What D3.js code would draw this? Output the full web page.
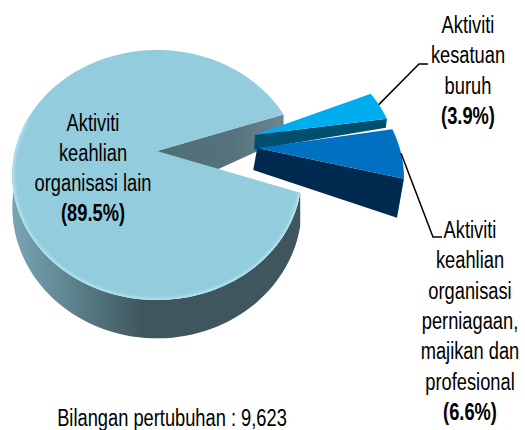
<!DOCTYPE html>
<html>
<head>
<meta charset="utf-8">
<script src="https://cdn.jsdelivr.net/npm/d3@7"></script>
<style>
html, body { margin: 0; padding: 0; background: #fff; }
svg { display: block; }
text { font-family: "Liberation Sans", Arial, sans-serif; fill: #000; }
</style>
</head>
<body>
<svg id="chart" width="525" height="430"></svg>
<script>
const categories = ["Aktiviti keahlian organisasi lain", "Aktiviti kesatuan buruh", "Aktiviti keahlian organisasi perniagaan, majikan dan profesional"];
const shares = [89.5, 3.9, 6.6];
const labelLines = [
    ["Aktiviti", "keahlian", "organisasi lain"],
    ["Aktiviti", "kesatuan", "buruh"],
    ["Aktiviti", "keahlian", "organisasi", "perniagaan,", "majikan dan", "profesional"]
];
const totalLabel = "Bilangan pertubuhan : 9,623";

const svg = d3.select("#chart");
const deg = Math.PI / 180;

// tilted disc, far side is smaller than the near side
const tilt = 0.192;
const cx = 157, cy = 151, scaleU = 142, scaleV = 120.4;
const project = (u, v) => [cx + scaleU * u / (1 - tilt * v), cy + scaleV * v / (1 - tilt * v)];

const pie = d3.pie().sort(null).startAngle(109 * deg).endAngle(469 * deg);
const arcs = pie(shares);

// how far each slice is pulled out, in disc units, and how its side wall looks
const pieces = [
    { shift: [0, 0] },
    { shift: [0.71, -0.2], nudge: [1, 7], wallApex: 15, wallRim: 9, inApex: -1, inRim: -1 },
    { shift: [0.72, -0.105], nudge: [0, 9.5], wallApex: 22, wallRim: 39, inApex: -4, inRim: -7 }
];

function rimPoint(angle, shift) {
    return project(Math.sin(angle) + shift[0], -Math.cos(angle) + shift[1]);
}
function rimPoints(a, shift) {
    return d3.range(0, 81).map(i => rimPoint(a.startAngle + (a.endAngle - a.startAngle) * i / 80, shift));
}
const line = d3.line();
const poly = pts => line(pts) + "Z";

const defs = svg.append("defs");
const soft = defs.append("filter").attr("id", "soft").attr("x", "-5%").attr("y", "-5%").attr("width", "110%").attr("height", "110%");
soft.append("feGaussianBlur").attr("stdDeviation", 0.6);
const glow = defs.append("filter").attr("id", "glow").attr("x", "-5%").attr("y", "-5%").attr("width", "110%").attr("height", "110%");
glow.append("feGaussianBlur").attr("stdDeviation", 1.6);

function hGradient(id, x1, x2, stops) {
    const g = defs.append("linearGradient").attr("id", id)
        .attr("gradientUnits", "userSpaceOnUse")
        .attr("x1", x1).attr("x2", x2).attr("y1", 0).attr("y2", 0);
    stops.forEach(s => g.append("stop").attr("offset", s[0]).attr("stop-color", s[1]));
}
hGradient("mainWall", 12, 300, [[0, "#7ba5b3"], [0.15, "#648c99"], [0.45, "#3f575e"], [1, "#3f575e"]]);
hGradient("notchWall", 158, 283, [[0, "#4f6d77"], [0.6, "#55737d"], [1, "#6a8791"]]);

const pieG = svg.append("g").attr("filter", "url(#soft)");

// wall of the gap in the big slice
const mainArc = arcs[0];
const farEdge = rimPoint(mainArc.endAngle, [0, 0]);
const apexMain = project(0, 0);
pieG.append("path")
    .attr("d", poly([apexMain, farEdge, [farEdge[0], farEdge[1] + 25], [apexMain[0], apexMain[1] + 46]]))
    .attr("fill", "url(#notchWall)");

// pulled out slices, walls then tops
const topColors = ["#93cddd", "#00aeef", "#0070c0"];
const wallColors = [null, "#004f6e", "#002b4f"];
[1, 2].forEach(i => {
    const a = arcs[i], p = pieces[i];
    const base = project(p.shift[0], p.shift[1]);
    const apex = [base[0] + p.nudge[0], base[1] + p.nudge[1]];
    const nearEdge = rimPoint(a.endAngle, p.shift);
    pieG.append("path")
        .attr("d", poly([apex, nearEdge,
            [nearEdge[0] + p.inRim, nearEdge[1] + p.wallRim],
            [apex[0] + p.inApex, apex[1] + p.wallApex]]))
        .attr("fill", wallColors[i]);
    pieG.append("path")
        .attr("d", poly([apex].concat(rimPoints(a, p.shift))))
        .attr("fill", topColors[i]);
});

// big slice, outer wall follows the rim, only the part facing the viewer
const mainRim = rimPoints(mainArc, [0, 0]);
const wallDepth = 31;
const wallAngles = d3.range(0, 81).map(i => mainArc.startAngle + (285 * deg - mainArc.startAngle) * i / 80);
const wallTop = wallAngles.map(t => rimPoint(t, [0, 0]));
const wallBottom = wallAngles.map(t => {
    const v = -Math.cos(t), pt = project(Math.sin(t), v);
    return [pt[0], pt[1] + wallDepth / (1 - tilt * v)];
});
pieG.append("path")
    .attr("d", poly(wallTop.concat(wallBottom.slice().reverse())))
    .attr("fill", "url(#mainWall)");
const mainTopPath = poly([apexMain].concat(mainRim));
pieG.append("path").attr("d", mainTopPath).attr("fill", topColors[0]);

// soft bevel just inside the near rim
defs.append("clipPath").attr("id", "mainClip").append("path").attr("d", mainTopPath);
svg.append("g").attr("clip-path", "url(#mainClip)")
    .append("path")
    .attr("d", line(wallTop))
    .attr("fill", "none")
    .attr("stroke", "#bfeaf5")
    .attr("stroke-width", 3)
    .attr("filter", "url(#glow)");

// labels, no narrow font here so the normal one is squeezed
const lineGap = 30.3, fontSize = 23, squeeze = 0.795;
function textLine(x, y, s, bold) {
    svg.append("text")
        .attr("transform", `translate(${x},${y}) scale(${squeeze},1)`)
        .attr("text-anchor", "middle")
        .attr("font-size", fontSize)
        .attr("font-weight", bold ? "bold" : null)
        .text(s);
}
function label(x, y, lines, bold) {
    lines.forEach((s, i) => textLine(x, y + i * lineGap, s, false));
    textLine(x, y + lines.length * lineGap, bold, true);
}
const pct = v => "(" + v.toFixed(1) + "%)";
label(93, 130.5, labelLines[0], pct(shares[0]));
label(468, 33, labelLines[1], pct(shares[1]));
label(470, 238, labelLines[2], pct(shares[2]));
textLine(172, 426, totalLabel, false);

// leader lines, from the slice rim to the label
function leader(i, frac, end, elbowX) {
    const a = arcs[i];
    const from = rimPoint(a.startAngle + (a.endAngle - a.startAngle) * frac, pieces[i].shift);
    svg.append("path")
        .attr("d", line([from, [elbowX, end[1]], end]))
        .attr("fill", "none").attr("stroke", "#000").attr("stroke-width", 1.5);
}
leader(1, 0.45, [428, 64], 419);
leader(2, 0.5, [442, 237], 433);
</script>
</body>
</html>
